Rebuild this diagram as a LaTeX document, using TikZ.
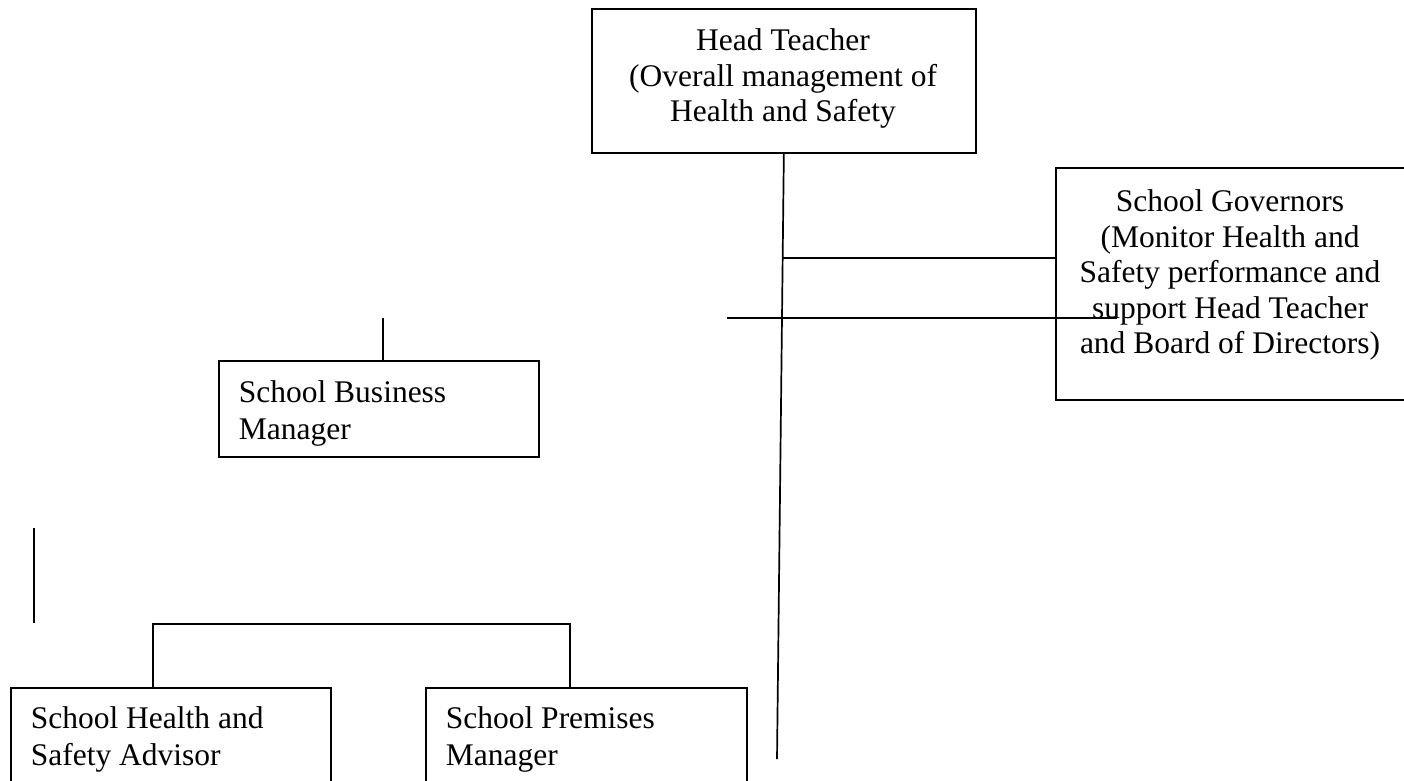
\documentclass[tikz,border=0pt]{standalone}
\usepackage{fontspec}
\setmainfont{Liberation Serif}
\begin{document}
\begin{tikzpicture}[x=1pt,y=-1pt,line width=1.7pt,
  box/.style={draw,line width=1.7pt,inner sep=0pt,anchor=north west},
  txtc/.style={inner sep=0pt,anchor=north,align=center,font=\fontsize{31.5}{35.5}\selectfont},
  txtl/.style={inner sep=0pt,anchor=north west,align=left,font=\fontsize{31.5}{37.5}\selectfont}]
\clip (0,0) rectangle (1404,780);
\fill[white] (0,0) rectangle (1404,780);
% boxes
\node[box,minimum width=384pt,minimum height=144pt] (ht) at (591,8) {};
\node[box,minimum width=360pt,minimum height=232pt] (gov) at (1055,167) {};
\node[box,minimum width=320pt,minimum height=96pt] (sbm) at (218,360) {};
\node[box,minimum width=320pt,minimum height=150pt] (shsa) at (10,687) {};
\node[box,minimum width=321pt,minimum height=150pt] (spm) at (425,687) {};
% texts
\node[txtc] (htt) at (783,28) {Head Teacher\\(Overall management of\\Health and Safety};
\node[txtc] (govt) at (1230,189) {School Governors\\(Monitor Health and\\Safety performance and\\support Head Teacher\\and Board of Directors)};
\node[txtl] (sbmt) at (238,379.5) {School Business\\Manager};
\node[txtl] (shsat) at (30,705.5) {School Health and\\Safety Advisor};
\node[txtl] (spmt) at (445,705.5) {School Premises\\Manager};
% connectors
\coordinate (vend) at (777,759);
\draw (ht.south) -- (vend);
\coordinate (g1) at (783,258);
\draw (g1) -- (g1 -| gov.west);
\coordinate (h1) at (727,318);
\coordinate (h2) at (1117,318);
\draw (h1) -- (h2);
\coordinate (s1) at (383,318);
\draw (s1) -- (s1 |- sbm.north);
\coordinate (l1) at (34,528);
\coordinate (l2) at (34,623);
\draw (l1) -- (l2);
\coordinate (bl) at (153,624);
\coordinate (br) at (570,624);
\draw (bl |- shsa.north) -- (bl) -- (br) -- (br |- spm.north);
\end{tikzpicture}
\end{document}
